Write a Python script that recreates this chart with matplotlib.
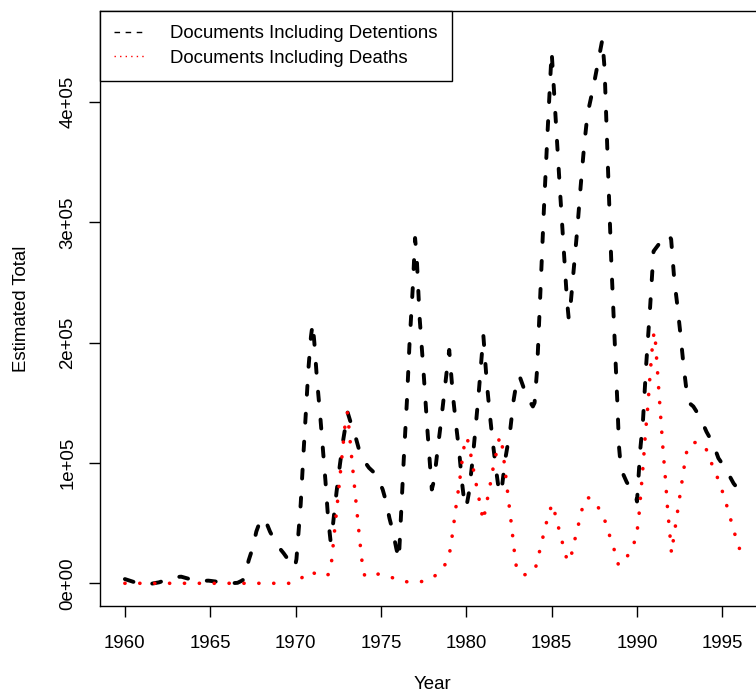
import matplotlib
matplotlib.use("Agg")
import matplotlib.pyplot as plt
from matplotlib.lines import Line2D

# ---- data (values in units of 1e5) ----
det_year = [1960.0, 1960.5, 1961.0, 1961.5, 1962.0, 1962.5, 1963.0, 1963.3, 1963.8, 1964.3,
            1964.9, 1965.3, 1965.7, 1966.2, 1966.6, 1966.9, 1967.05, 1967.25, 1967.5, 1967.7,
            1967.93, 1968.1, 1968.3, 1968.5, 1968.9, 1969.3, 1969.6, 1969.95, 1970.05, 1970.15,
            1970.3, 1970.45, 1970.6, 1970.75, 1970.9, 1971.0, 1971.1, 1971.25, 1971.45, 1971.6,
            1971.75, 1971.9, 1972.05, 1972.2, 1972.4, 1972.6, 1972.8, 1973.05, 1973.2, 1973.45,
            1973.7, 1974.0, 1974.3, 1974.75, 1975.1, 1975.3, 1975.5, 1975.7, 1975.9, 1976.05,
            1976.17, 1976.34, 1976.52, 1976.67, 1976.87, 1977.0, 1977.1, 1977.26, 1977.5, 1977.73,
            1977.98, 1978.12, 1978.31, 1978.51, 1978.7, 1978.9, 1979.0, 1979.21, 1979.39, 1979.58,
            1979.74, 1979.88, 1980.0, 1980.15, 1980.35, 1980.55, 1980.75, 1980.9, 1981.0, 1981.2,
            1981.36, 1981.53, 1981.73, 1981.93, 1982.09, 1982.28, 1982.57, 1982.77, 1983.0, 1983.15,
            1983.55, 1983.9, 1984.0, 1984.15, 1984.35, 1984.55, 1984.75, 1984.9, 1985.0, 1985.1,
            1985.3, 1985.5, 1985.7, 1985.9, 1986.0, 1986.1, 1986.3, 1986.5, 1986.7, 1986.9,
            1987.1, 1987.45, 1987.77, 1987.97, 1988.1, 1988.3, 1988.5, 1988.7, 1988.85, 1988.95,
            1989.05, 1989.15, 1989.4, 1989.7, 1989.9, 1990.0, 1990.09, 1990.19, 1990.35, 1990.54,
            1990.77, 1990.97, 1991.5, 1991.85, 1992.0, 1992.18, 1992.38, 1992.56, 1992.72, 1992.92,
            1993.05, 1993.3, 1993.7, 1994.07, 1994.46, 1994.77, 1995.16, 1995.66, 1996.0]
det_value = [0.035, 0.012, -0.003, -0.005, 0.008, 0.032, 0.052, 0.055, 0.035, 0.02,
             0.022, 0.015, 0.006, 0.0, 0.004, 0.025, 0.07, 0.19, 0.30, 0.43,
             0.52, 0.545, 0.50, 0.43, 0.32, 0.25, 0.19, 0.13, 0.20, 0.38,
             0.66, 1.05, 1.42, 1.78, 2.05, 2.16, 2.00, 1.70, 1.38, 1.12,
             0.85, 0.55, 0.35, 0.50, 0.76, 0.99, 1.20, 1.42, 1.35, 1.25,
             1.12, 1.02, 0.96, 0.90, 0.78, 0.68, 0.54, 0.43, 0.29, 0.20,
             0.55, 1.04, 1.51, 1.98, 2.47, 2.87, 2.70, 2.22, 1.75, 1.26,
             0.78, 0.86, 1.10, 1.33, 1.57, 1.82, 1.94, 1.57, 1.33, 1.10,
             0.85, 0.68, 0.63, 0.75, 1.00, 1.30, 1.62, 1.88, 2.06, 1.67,
             1.43, 1.20, 0.96, 0.75, 0.80, 1.03, 1.27, 1.52, 1.72, 1.71,
             1.55, 1.47, 1.50, 1.78, 2.45, 3.12, 3.72, 4.15, 4.42, 4.18,
             3.71, 3.24, 2.80, 2.35, 2.20, 2.30, 2.62, 2.94, 3.30, 3.63,
             3.90, 4.13, 4.37, 4.52, 4.28, 3.45, 2.65, 2.00, 1.50, 1.13,
             0.97, 0.92, 0.84, 0.78, 0.74, 0.68, 0.88, 1.11, 1.35, 1.82,
             2.30, 2.76, 2.86, 2.90, 2.86, 2.53, 2.29, 2.05, 1.82, 1.58,
             1.50, 1.47, 1.38, 1.26, 1.16, 1.04, 0.96, 0.83, 0.77]

death_year = [1960.0, 1961.0, 1962.0, 1963.0, 1964.0, 1965.0, 1966.0, 1967.0, 1968.0, 1969.0,
              1969.6, 1970.0, 1970.4, 1970.85, 1971.3, 1971.6, 1971.95, 1972.1, 1972.3, 1972.5,
              1972.7, 1972.9, 1973.0, 1973.05, 1973.15, 1973.35, 1973.55, 1973.75, 1973.9, 1974.05,
              1974.4, 1974.85, 1975.3, 1975.7, 1976.1, 1976.5, 1977.0, 1977.4, 1977.8, 1978.1,
              1978.4, 1978.7, 1979.0, 1979.2, 1979.4, 1979.6, 1979.8, 1979.95, 1980.05, 1980.25,
              1980.5, 1980.7, 1980.85, 1981.0, 1981.15, 1981.35, 1981.6, 1981.8, 1981.95, 1982.05,
              1982.25, 1982.45, 1982.65, 1982.85, 1982.95, 1983.15, 1983.35, 1983.7, 1984.05, 1984.25,
              1984.45, 1984.65, 1984.86, 1985.05, 1985.27, 1985.48, 1985.7, 1985.91, 1986.0, 1986.13,
              1986.32, 1986.52, 1986.72, 1986.9, 1987.1, 1987.3, 1987.55, 1987.8, 1988.15, 1988.41,
              1988.67, 1988.9, 1989.05, 1989.27, 1989.7, 1989.95, 1990.09, 1990.23, 1990.37, 1990.49,
              1990.64, 1990.76, 1990.9, 1991.0, 1991.05, 1991.17, 1991.29, 1991.41, 1991.53, 1991.67,
              1991.79, 1991.95, 1992.02, 1992.14, 1992.38, 1992.63, 1992.88, 1993.17, 1993.6, 1993.99,
              1994.3, 1994.63, 1994.92, 1995.19, 1995.42, 1995.65, 1995.89, 1996.0]
death_value = [0.0, 0.0, 0.0, 0.0, 0.0, 0.0, 0.0, 0.0, 0.0, 0.0,
               0.0, 0.01, 0.05, 0.10, 0.07, 0.055, 0.075, 0.17, 0.46, 0.74,
               1.03, 1.32, 1.41, 1.42, 1.25, 0.95, 0.66, 0.37, 0.17, 0.06,
               0.06, 0.077, 0.065, 0.045, 0.025, 0.013, 0.01, 0.015, 0.03, 0.055,
               0.09, 0.14, 0.23, 0.42, 0.64, 0.84, 1.07, 1.21, 1.21, 1.08,
               0.88, 0.74, 0.62, 0.52, 0.64, 0.78, 0.98, 1.11, 1.22, 1.21,
               0.97, 0.72, 0.48, 0.22, 0.12, 0.08, 0.069, 0.08, 0.125, 0.24,
               0.36, 0.48, 0.595, 0.66, 0.54, 0.42, 0.30, 0.19, 0.18, 0.22,
               0.34, 0.457, 0.576, 0.69, 0.71, 0.71, 0.67, 0.615, 0.51, 0.39,
               0.277, 0.16, 0.15, 0.185, 0.29, 0.38, 0.52, 0.76, 1.00, 1.24,
               1.48, 1.72, 1.97, 2.09, 2.07, 1.82, 1.58, 1.34, 1.10, 0.86,
               0.62, 0.37, 0.25, 0.37, 0.60, 0.84, 1.08, 1.17, 1.17, 1.14,
               1.02, 0.91, 0.80, 0.68, 0.565, 0.45, 0.33, 0.29]

scale = 1e5
x_ticks = [1960, 1965, 1970, 1975, 1980, 1985, 1990, 1995]
y_ticks = [0, 1e5, 2e5, 3e5, 4e5]
y_tick_labels = ["0e+00", "1e+05", "2e+05", "3e+05", "4e+05"]
series_labels = ["Documents Including Detentions", "Documents Including Deaths"]
x_label = "Year"
y_label = "Estimated Total"

# ---- figure ----
W, H, DPI = 756, 694, 100
plt.rcParams['font.family'] = ['Liberation Sans', 'DejaVu Sans']
fig = plt.figure(figsize=(W / DPI, H / DPI), dpi=DPI)
px = 72.0 / DPI  # points per pixel

left_px, right_px, top_px, bottom_px = 100.3, 764.0, 11.0, 606.0
ax = fig.add_axes([left_px / W, 1 - bottom_px / H,
                   (right_px - left_px) / W, (bottom_px - top_px) / H])
ax.set_xlim(1958.56, 1997.44)
ax.set_ylim(-18870, 475700)

fs = 18.7 * px  # font size in points

lw_main = 3.9 * px
ax.plot(det_year, [v * scale for v in det_value], color='black', lw=lw_main,
        linestyle=(0, (9.0 / 3.9, 19.0 / 3.9)), dash_capstyle='round')
lw_dot = 3.6 * px
ax.plot(death_year, [v * scale for v in death_value], color='red', lw=lw_dot,
        linestyle=(0, (0.05, 14.7 / 3.6)), dash_capstyle='round')

ax.set_xticks(x_ticks)
ax.set_xticklabels([str(t) for t in x_ticks])
ax.set_yticks(y_ticks)
ax.set_yticklabels(y_tick_labels, rotation=90, va='center')
ax.tick_params(axis='both', direction='out', length=11.5 * px, width=1.0, colors='black',
               labelsize=fs)
ax.tick_params(axis='x', pad=17.5 * px)
ax.tick_params(axis='y', pad=12.5 * px)
for s in ax.spines.values():
    s.set_linewidth(1.0)
    s.set_color('black')

ax.set_xlabel(x_label, fontsize=fs, labelpad=24 * px)
ax.set_ylabel(y_label, fontsize=fs, labelpad=29 * px)

handles = [Line2D([], [], color='black', lw=1.0, linestyle=(0, (4, 4))),
           Line2D([], [], color='red', lw=1.0, linestyle=(0, (1, 3)))]
leg = ax.legend(handles, series_labels, loc='upper left', bbox_to_anchor=(0, 1),
                borderaxespad=0, fontsize=fs, frameon=True, fancybox=False,
                edgecolor='black', framealpha=1, borderpad=0.75, labelspacing=0.41,
                handlelength=1.74, handletextpad=1.26)
leg.get_frame().set_linewidth(1.0)

fig.savefig("out.png", dpi=DPI)
